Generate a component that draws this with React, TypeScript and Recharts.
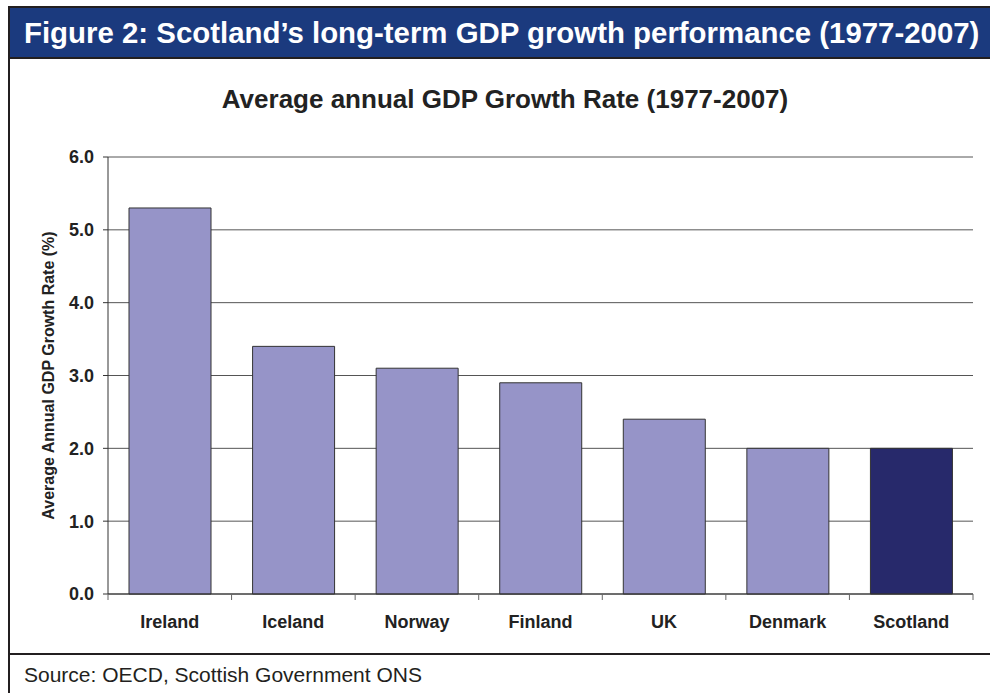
import { BarChart, Bar, XAxis, YAxis, CartesianGrid, Cell } from "recharts";

const countries = ["Ireland", "Iceland", "Norway", "Finland", "UK", "Denmark", "Scotland"];
const growthRates = [5.3, 3.4, 3.1, 2.9, 2.4, 2.0, 2.0];
const yTicks = [0, 1, 2, 3, 4, 5, 6];

const data = countries.map((country, i) => ({ country, value: growthRates[i] }));

const FONT = "'Liberation Sans', Arial, Helvetica, sans-serif";
const PLOT_LEFT = 108;
const PLOT_RIGHT = 973;
const BAND = (PLOT_RIGHT - PLOT_LEFT) / countries.length;

const CountryTick = (props: any) => {
  const { x, y, payload, index } = props;
  const half = BAND / 2;
  return (
    <g>
      <line x1={x - half} y1={y} x2={x - half} y2={y + 6} stroke="#666" />
      {index === countries.length - 1 && (
        <line x1={x + half} y1={y} x2={x + half} y2={y + 6} stroke="#666" />
      )}
      <text
        x={x}
        y={y + 34}
        textAnchor="middle"
        fontFamily={FONT}
        fontWeight="bold"
        fontSize={18}
        fill="#222"
      >
        {payload.value}
      </text>
    </g>
  );
};

export default function App() {
  return (
    <div
      style={{
        position: "absolute",
        left: 0,
        top: 0,
        width: 990,
        height: 693,
        background: "#fff",
        fontFamily: FONT,
        overflow: "hidden",
      }}
    >
      {/* frame */}
      <div style={{ position: "absolute", left: 8, top: 6, width: 2, height: 687, background: "#231f20" }} />
      <div style={{ position: "absolute", left: 8, top: 6, width: 982, height: 2, background: "#231f20" }} />
      <div
        style={{
          position: "absolute",
          left: 10,
          top: 8,
          width: 980,
          height: 49,
          background: "#1b3a7e",
          borderBottom: "2px solid #231f20",
        }}
      />
      <div
        style={{
          position: "absolute",
          left: 24,
          top: 16,
          color: "#fff",
          fontWeight: "bold",
          fontSize: 29.4,
          whiteSpace: "nowrap",
        }}
      >
        Figure 2: Scotland’s long-term GDP growth performance (1977-2007)
      </div>
      <div style={{ position: "absolute", left: 8, top: 653, width: 982, height: 2, background: "#231f20" }} />
      <div style={{ position: "absolute", left: 24, top: 663, fontSize: 21, color: "#231f20", whiteSpace: "nowrap" }}>
        Source: OECD, Scottish Government ONS
      </div>

      <div
        style={{
          position: "absolute",
          left: 0,
          width: 1010,
          top: 84,
          textAlign: "center",
          fontWeight: "bold",
          fontSize: 26,
          color: "#222",
        }}
      >
        Average annual GDP Growth Rate (1977-2007)
      </div>

      <div style={{ position: "absolute", left: 0, top: 0 }}>
        <BarChart
          width={990}
          height={693}
          data={data}
          margin={{ top: 157, right: 990 - PLOT_RIGHT, bottom: 59, left: 0 }}
          barCategoryGap="17%"
        >
          <CartesianGrid vertical={false} stroke="#555" strokeWidth={1} />
          <XAxis
            dataKey="country"
            height={40}
            tickLine={false}
            tickSize={0}
            tickMargin={0}
            axisLine={{ stroke: "#333" }}
            tick={<CountryTick />}
            interval={0}
          />
          <YAxis
            width={PLOT_LEFT}
            domain={[0, 6]}
            ticks={yTicks}
            tickFormatter={(v: number) => v.toFixed(1)}
            tickSize={5}
            tickMargin={9}
            tickLine={{ stroke: "#333" }}
            axisLine={{ stroke: "#333" }}
            tick={{ fontFamily: FONT, fontWeight: "bold", fontSize: 18, fill: "#222" }}
            label={{
              value: "Average Annual GDP Growth Rate (%)",
              angle: -90,
              position: "insideLeft",
              offset: 0,
              dx: 48,
              style: { fontFamily: FONT, fontWeight: "bold", fontSize: 16, fill: "#222", textAnchor: "middle" },
            }}
          />
          <YAxis
            yAxisId="right"
            orientation="right"
            width={0}
            domain={[0, 6]}
            tick={false}
            tickLine={false}
            axisLine={{ stroke: "#999" }}
          />
          <Bar dataKey="value" stroke="#333" strokeWidth={1} isAnimationActive={false}>
            {data.map((d) => (
              <Cell key={d.country} fill={d.country === "Scotland" ? "#27296b" : "#9694c8"} />
            ))}
          </Bar>
        </BarChart>
      </div>
    </div>
  );
}
